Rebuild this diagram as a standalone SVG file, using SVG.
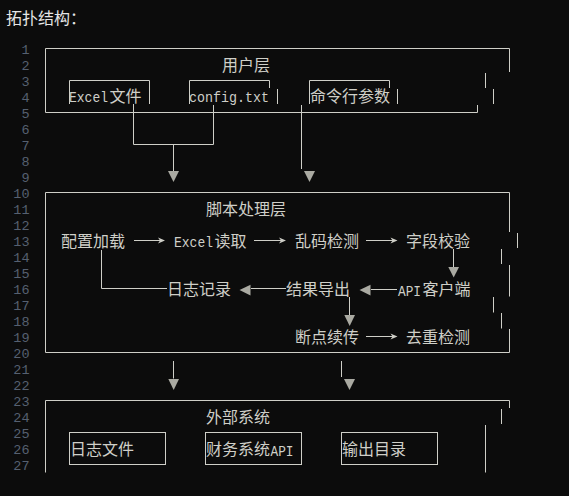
<svg xmlns="http://www.w3.org/2000/svg" width="569" height="496" viewBox="0 0 569 496">
<style>
.c{font-family:"Noto Sans CJK SC","Noto Sans",sans-serif;font-size:16px;fill:#cfcfc8}
.a{font-family:"Liberation Mono","DejaVu Sans Mono",monospace;font-size:15px;fill:#cfcfc8}
.n{font-family:"Liberation Mono","DejaVu Sans Mono",monospace;font-size:13.5px;fill:#566070;text-anchor:end}
.l{fill:none;stroke:#cfcfc8;stroke-width:1}
.h{fill:#aaaaa2}
.s{fill:#cfcfc8}
</style>
<rect width="569" height="496" fill="#0c0c0c"/>
<text x="6" y="23.5" class="c" style="fill:#e6e6e6">拓扑结构：</text>
<g id="line-numbers">
<text class="n" x="29.5" y="54.3">1</text>
<text class="n" x="29.5" y="70.3">2</text>
<text class="n" x="29.5" y="86.3">3</text>
<text class="n" x="29.5" y="102.3">4</text>
<text class="n" x="29.5" y="118.3">5</text>
<text class="n" x="29.5" y="134.3">6</text>
<text class="n" x="29.5" y="150.3">7</text>
<text class="n" x="29.5" y="166.3">8</text>
<text class="n" x="29.5" y="182.3">9</text>
<text class="n" x="29.5" y="198.3">10</text>
<text class="n" x="29.5" y="214.3">11</text>
<text class="n" x="29.5" y="230.3">12</text>
<text class="n" x="29.5" y="246.3">13</text>
<text class="n" x="29.5" y="262.3">14</text>
<text class="n" x="29.5" y="278.3">15</text>
<text class="n" x="29.5" y="294.3">16</text>
<text class="n" x="29.5" y="310.3">17</text>
<text class="n" x="29.5" y="326.3">18</text>
<text class="n" x="29.5" y="342.3">19</text>
<text class="n" x="29.5" y="358.3">20</text>
<text class="n" x="29.5" y="374.3">21</text>
<text class="n" x="29.5" y="390.3">22</text>
<text class="n" x="29.5" y="406.3">23</text>
<text class="n" x="29.5" y="422.3">24</text>
<text class="n" x="29.5" y="438.3">25</text>
<text class="n" x="29.5" y="454.3">26</text>
<text class="n" x="29.5" y="470.3">27</text>
</g>
<g id="user-layer">
<path class="l" d="M509.5 72 V48.5 H45.5 V112.5 H477.5 V105 M485.5 73 V88 M493.5 89 V104"/>
<text x="222" y="71" class="c">用户层</text>
</g>
<g id="excel-file">
<path class="l" d="M69.5 104 V80.5 H149.5 V104"/>
<text x="69" y="102" class="a" textLength="39" lengthAdjust="spacingAndGlyphs">Excel</text>
<text x="109.5" y="101.5" class="c">文件</text>
</g>
<g id="config-txt">
<path class="l" d="M189.5 104 V80.5 H269.5 V88 M277.5 89 V104"/>
<text x="189" y="102" class="a" textLength="80" lengthAdjust="spacingAndGlyphs">config.txt</text>
</g>
<g id="cli-args">
<path class="l" d="M309.5 104 V80.5 H389.5 V88 M397.5 89 V104"/>
<text x="310" y="101.5" class="c">命令行参数</text>
</g>
<g id="script-layer">
<path class="l" d="M509.5 232 V192.5 H45.5 V352.5 H509.5 V329 M517.5 233 V248 M501.5 249 V264 M509.5 265 V296.5 M493.5 297 V312.5 M501.5 313 V328.5"/>
<text x="206" y="214.5" class="c">脚本处理层</text>
</g>
<g id="config-load"><text x="61" y="246.5" class="c">配置加载</text></g>
<g id="excel-read">
<text x="174" y="247" class="a" textLength="39" lengthAdjust="spacingAndGlyphs">Excel</text>
<text x="214.5" y="246.5" class="c">读取</text>
</g>
<g id="garble-detect"><text x="295" y="246.5" class="c">乱码检测</text></g>
<g id="field-validate"><text x="406" y="246.5" class="c">字段校验</text></g>
<g id="log-record"><text x="167" y="295" class="c">日志记录</text></g>
<g id="result-export"><text x="286" y="295" class="c">结果导出</text></g>
<g id="api-client">
<text x="398" y="295.5" class="a" textLength="23" lengthAdjust="spacingAndGlyphs">API</text>
<text x="422.5" y="295" class="c">客户端</text>
</g>
<g id="resume"><text x="295" y="342.5" class="c">断点续传</text></g>
<g id="dedup"><text x="406" y="342.5" class="c">去重检测</text></g>
<g id="external-layer">
<path class="l" d="M509.5 408 V400.5 H45.5 V472.5 M501.5 409 V424 M485.5 425 V472.5"/>
<text x="206" y="422.5" class="c">外部系统</text>
</g>
<g id="log-file">
<rect class="l" x="69.5" y="432.5" width="96" height="32"/>
<text x="70" y="455" class="c">日志文件</text>
</g>
<g id="finance-api">
<rect class="l" x="205.5" y="432.5" width="96" height="32"/>
<text x="206" y="455" class="c">财务系统</text>
<text x="270.5" y="455.5" class="a" textLength="23" lengthAdjust="spacingAndGlyphs">API</text>
</g>
<g id="output-dir">
<rect class="l" x="341.5" y="432.5" width="96" height="32"/>
<text x="342" y="455" class="c">输出目录</text>
</g>
<g id="connectors">
<path class="l" d="M133.5 104 V144.5 H213.5 M213.5 105 V144.5 M173.5 144.5 V171"/>
<polygon class="h" points="168,171 179,171 173.5,182"/>
<path class="l" d="M301.5 105 V169"/>
<polygon class="h" points="304,171 315,171 309.5,182"/>
<path class="l" d="M134 240.5 H162 M254 240.5 H283 M366 240.5 H395"/>
<polygon class="s" points="165,240.5 158,237.5 160,240.5 158,243.5"/>
<polygon class="s" points="286,240.5 279,237.5 281,240.5 279,243.5"/>
<polygon class="s" points="397.5,240.5 390.5,237.5 392.5,240.5 390.5,243.5"/>
<path class="l" d="M453.5 249 V267"/>
<polygon class="h" points="448.3,267 459,267 453.7,277.5"/>
<path class="l" d="M371 289.5 H397"/>
<polygon class="h" points="359.5,290 370.5,284.7 370.5,295.5"/>
<path class="l" d="M251 288.5 H286"/>
<polygon class="h" points="239.5,290 250.5,284.7 250.5,295.5"/>
<path class="l" d="M101.5 250 V288.5 H167"/>
<path class="l" d="M349.5 297 V315"/>
<polygon class="h" points="344.3,315 355,315 349.7,326"/>
<path class="l" d="M366 336.5 H395"/>
<polygon class="s" points="397.5,336.5 390.5,333.5 392.5,336.5 390.5,339.5"/>
<path class="l" d="M173.5 361 V378.5"/>
<polygon class="h" points="168.3,379 179,379 173.7,390"/>
<path class="l" d="M341.5 361 V377"/>
<polygon class="h" points="344,379 355,379 349.5,390"/>
</g>
</svg>
